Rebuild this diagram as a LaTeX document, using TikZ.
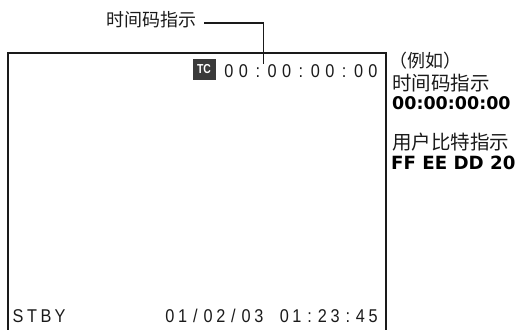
\documentclass[tikz,border=0pt]{standalone}
\usepackage{fontspec}
\setmainfont{Liberation Sans}
\newfontfamily\cjk{Noto Sans CJK SC}
\newfontfamily\heavy{DejaVu Sans Bold}
\definecolor{tcgray}{HTML}{3A3A3A}
\definecolor{ink}{HTML}{1A1A1A}
\begin{document}
\begin{tikzpicture}[x=1pt,y=-1pt,
  lcd/.style={inner sep=0pt,anchor=base,font=\fontsize{18.5}{18.5}\selectfont,text=ink},
  cjklabel/.style={inner sep=0pt,anchor=west,font=\cjk\fontsize{18}{18}\selectfont,text=ink},
  heavylabel/.style={inner sep=0pt,anchor=base west,font=\heavy\fontsize{17.5}{17.5}\selectfont,text=black},
  frameline/.style={line width=2pt,draw=ink},
  leader/.style={line width=1.3pt,draw=ink}]
\useasboundingbox (0,0) rectangle (518,329);
% screen frame (open at the bottom)
\coordinate (bl) at (7.5,340);
\coordinate (tl) at (7.5,52.5);
\coordinate (tr) at (385.5,52.5);
\coordinate (br) at (385.5,340);
\draw[frameline] (bl) -- (tl) -- (tr) -- (br);
% TC badge
\node[fill=tcgray,minimum width=23pt,minimum height=21pt,inner sep=0pt,
      text=white,font=\bfseries\fontsize{13}{13}\selectfont] (tc) at (204,69.5) {\scalebox{0.8}[1]{TC}};
% time code on screen
\foreach \c [count=\i] in {0,0,:,0,0,:,0,0,:,0,0}
  \node[lcd] (t\i) at ({229+(\i-1)*14.4},77) {\scalebox{0.88}[1]{\c}};
% bottom status line
\foreach \c [count=\i] in {S,T,B,Y}
  \node[lcd] (s\i) at ({18+(\i-1)*14},322) {\scalebox{0.88}[1]{\c}};
\foreach \c [count=\i] in {0,1,/,0,2,/,0,3,{},0,1,:,2,3,:,4,5}
  \node[lcd] (d\i) at ({170+(\i-1)*12.7},322) {\scalebox{0.88}[1]{\c}};
% leader label
\node[cjklabel,anchor=east] (lbl) at (197,20) {时间码指示};
\coordinate (lk) at (263.5,23);
\coordinate (le) at (263.5,64);
\draw[leader] (lbl.east |- lk) ++(7,0) -- (lk) -- (le);
% right side example
\node[cjklabel,font=\cjk\fontsize{18}{18}\selectfont] (eg) at (389,61) {（例如）};
\node[cjklabel,font=\cjk\fontsize{19.5}{19.5}\selectfont] (tcl) at (392,83) {时间码指示};
\node[heavylabel] (tcv) at (392,109) {00:00:00:00};
\node[cjklabel,font=\cjk\fontsize{19.5}{19.5}\selectfont] (ubl) at (392,142) {用户比特指示};
\node[heavylabel,font=\heavy\fontsize{18.2}{18.2}\selectfont] (ubv) at (391,169.5) {FF EE DD 20};
\end{tikzpicture}
\end{document}
